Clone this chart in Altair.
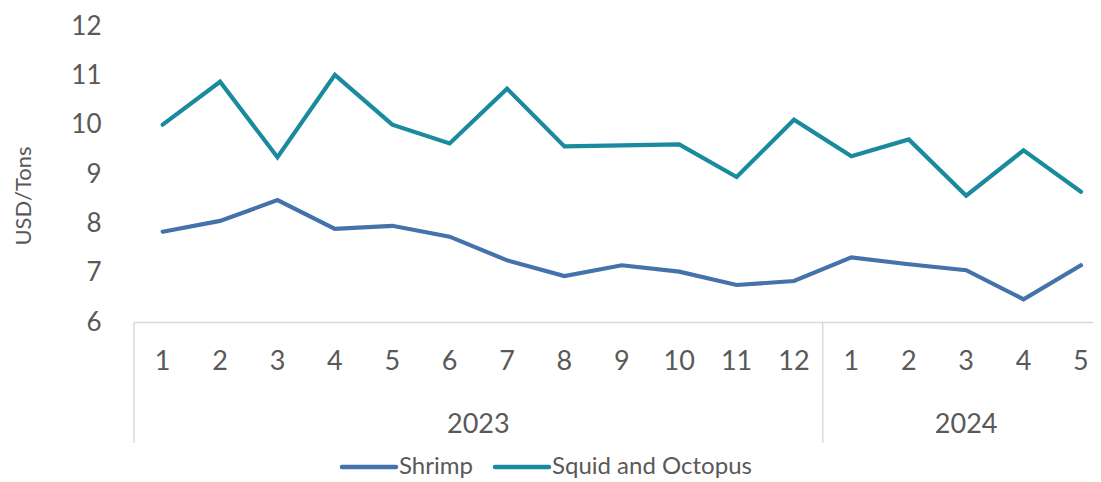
import altair as alt
import pandas as pd

months = ["1", "2", "3", "4", "5", "6", "7", "8", "9", "10", "11", "12",
          "1", "2", "3", "4", "5"]
years = ["2023"] * 12 + ["2024"] * 5
shrimp = [7.83, 8.05, 8.47, 7.89, 7.95, 7.73, 7.25, 6.93, 7.15, 7.02, 6.75, 6.83,
          7.31, 7.17, 7.05, 6.46, 7.15]
squid = [10.0, 10.87, 9.34, 11.01, 10.0, 9.62, 10.73, 9.56, 9.58, 9.60, 8.94, 10.10,
         9.36, 9.70, 8.56, 9.48, 8.64]
series_names = ["Shrimp", "Squid and Octopus"]
series_colors = ["#4472AA", "#1A8A9E"]

idx = list(range(len(months)))
rows = []
for i in idx:
    rows.append({"idx": i, "series": "Shrimp", "value": shrimp[i]})
    rows.append({"idx": i, "series": "Squid and Octopus", "value": squid[i]})
df = pd.DataFrame(rows)

mdf = pd.DataFrame({"idx": idx, "month": months, "year": years})
ydf = mdf.groupby("year", as_index=False).agg(first=("idx", "min"), last=("idx", "max"))
ydf["mid"] = (ydf["first"] + ydf["last"]) / 2
ydf["sep"] = ydf["first"] - 0.5

TXT = "#595959"
GRID = "#d9d9d9"
FONT = "Lato"

TOP = 18
H = 296  # plot area height; x axis (value 6) sits at page y ~321

xscale = alt.Scale(domain=[-0.5, 16.21], nice=False, zero=False)
yscale = alt.Scale(domain=[6, 12], nice=False, zero=False)

lines = alt.Chart(df).mark_line(strokeWidth=4.2, strokeCap="round").encode(
    x=alt.X("idx:Q", scale=xscale,
            axis=alt.Axis(labels=False, ticks=False, grid=False, title=None,
                          domain=True, domainColor=GRID, domainWidth=1.5)),
    y=alt.Y("value:Q", scale=yscale,
            axis=alt.Axis(values=[6, 7, 8, 9, 10, 11, 12], format="d",
                          labels=True, ticks=False, grid=False, domain=False,
                          title=None, labelFontSize=26, labelColor=TXT,
                          labelFont=FONT, labelPadding=33)),
    color=alt.Color("series:N", scale=alt.Scale(domain=series_names, range=series_colors),
                    legend=None),
    detail="series:N",
)

seps = alt.Chart(ydf).mark_rule(color=GRID, strokeWidth=1.5).encode(
    x=alt.X("sep:Q", scale=xscale),
    y=alt.value(H), y2=alt.value(H + 121),
)

month_text = alt.Chart(mdf).mark_text(fontSize=27, color=TXT, font=FONT,
                                      baseline="middle", align="center").encode(
    x=alt.X("idx:Q", scale=xscale),
    y=alt.value(H + 40),
    text="month:N",
)

year_text = alt.Chart(ydf).mark_text(fontSize=27, color=TXT, font=FONT,
                                     baseline="middle", align="center").encode(
    x=alt.X("mid:Q", scale=xscale),
    y=alt.value(H + 103),
    text="year:N",
)

ytitle = alt.Chart(pd.DataFrame({"t": ["USD/Tons"]})).mark_text(
    fontSize=22, color=TXT, font=FONT, angle=270, baseline="middle", align="center"
).encode(x=alt.value(-110), y=alt.value(170), text="t:N")

LY = H + 145
leg_shrimp_line = alt.Chart(pd.DataFrame({"a": [0]})).mark_rule(
    strokeWidth=4.5, strokeCap="round", color=series_colors[0]
).encode(x=alt.value(208), x2=alt.value(262), y=alt.value(LY))
leg_shrimp_txt = alt.Chart(pd.DataFrame({"t": [series_names[0]]})).mark_text(
    fontSize=24, color=TXT, font=FONT, align="left", baseline="middle"
).encode(x=alt.value(265), y=alt.value(LY), text="t:N")
leg_squid_line = alt.Chart(pd.DataFrame({"a": [0]})).mark_rule(
    strokeWidth=4.5, strokeCap="round", color=series_colors[1]
).encode(x=alt.value(361), x2=alt.value(415), y=alt.value(LY))
leg_squid_txt = alt.Chart(pd.DataFrame({"t": [series_names[1]]})).mark_text(
    fontSize=24, color=TXT, font=FONT, align="left", baseline="middle"
).encode(x=alt.value(418), y=alt.value(LY), text="t:N")

chart = alt.layer(
    seps, lines, month_text, year_text, ytitle,
    leg_shrimp_line, leg_shrimp_txt, leg_squid_line, leg_squid_txt,
).properties(
    width=959, height=H,
    padding={"left": 126, "top": TOP, "right": 0, "bottom": 160},
    autosize=alt.AutoSizeParams(type="none"),
).configure(font=FONT, background="white").configure_view(stroke=None)

chart.save("out.html", embed_options={"renderer": "svg", "actions": False})
